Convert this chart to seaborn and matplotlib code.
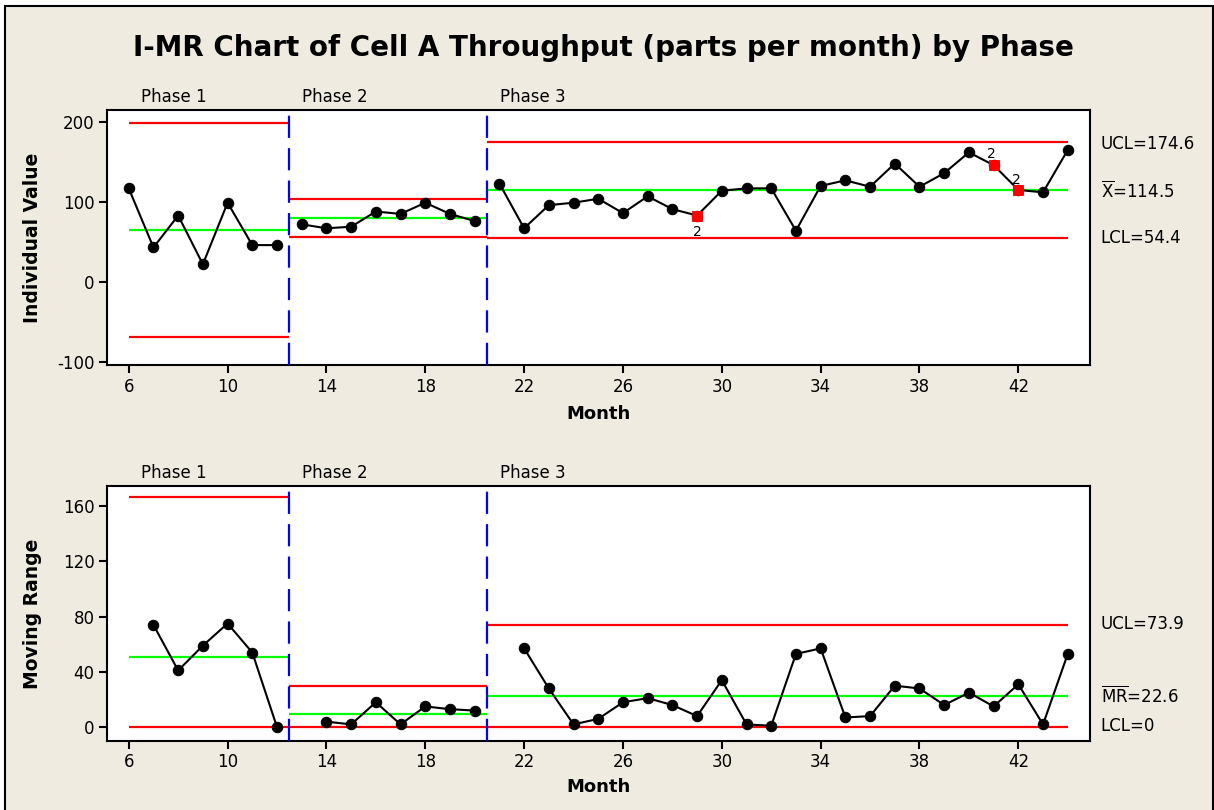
import numpy as np
import pandas as pd
import seaborn as sns
import matplotlib.pyplot as plt
import matplotlib.transforms as mtransforms
from matplotlib.patches import Rectangle

# ---- data ----
months = list(range(6, 45))
phase = [1] * 7 + [2] * 8 + [3] * 24
individual = [117, 43, 83, 22, 99, 46, 46,
              72, 67, 69, 88, 85, 99, 85, 76,
              123, 67, 96, 99, 104, 86, 107, 91, 83, 114, 117, 117,
              64, 120, 127, 119, 148, 119, 136, 162, 146, 115, 112, 165]
moving_range = [np.nan, 74, 41, 59, 75, 54, 0,
                np.nan, 4, 2, 18, 2, 15, 13, 12,
                np.nan, 57, 28, 2, 6, 18, 21, 16, 8, 34, 2, 1,
                53, 57, 7, 8, 30, 28, 16, 25, 15, 31, 2, 53]

phase_names = ['Phase 1', 'Phase 2', 'Phase 3']
phase_start = [6, 12.5, 20.5]
phase_end = [12.5, 20.5, 44]

i_center = [64.3, 80.2, 114.5]
i_ucl = [198.3, 104.2, 174.6]
i_lcl = [-69.1, 56.4, 54.4]
mr_center = [50.7, 9.8, 22.6]
mr_ucl = [166.6, 30.1, 73.9]
mr_lcl = [0, 0, 0]

flag_months = [29, 41, 42]
flag_offsets = [(0, -12), (-1.5, 8), (-1.5, 7)]

bg = '#EFEBE1'
df = pd.DataFrame({'month': months, 'phase': phase,
                   'individual': individual, 'mr': moving_range})

sns.set_theme(style='ticks')
plt.rcParams['font.family'] = ['DejaVu Sans']
plt.rcParams['text.color'] = 'black'
plt.rcParams['axes.labelcolor'] = 'black'
plt.rcParams['axes.unicode_minus'] = False

fig = plt.figure(figsize=(12.14, 8.10), dpi=100, facecolor='white')
fig.add_artist(Rectangle((5 / 1214, -0.01), 1208 / 1214, 1 - 6 / 810 + 0.01,
                         transform=fig.transFigure, facecolor=bg,
                         edgecolor='black', linewidth=1.5, zorder=-10))

ax1 = fig.add_axes([107 / 1214, 1 - 365 / 810, 983 / 1214, 255 / 810])
ax2 = fig.add_axes([107 / 1214, 1 - 740.7 / 810, 983 / 1214, 254.7 / 810])


def draw_panel(ax, col, center, ucl, lcl, ylim, yticks, ylabel, right_labels, xlab_y):
    ax.set_facecolor('white')
    for i in range(3):
        ax.hlines([ucl[i], lcl[i]], phase_start[i], phase_end[i], color='#FF0000', lw=1.6, zorder=2)
        ax.hlines(center[i], phase_start[i], phase_end[i], color='#00FF00', lw=1.6, zorder=2)
    for b in phase_start[1:]:
        ax.axvline(b, color='#0000FF', lw=1.6, dashes=(10, 4.6), zorder=3)
    d = df.dropna(subset=[col])
    sns.lineplot(data=d, x='month', y=col, units='phase', estimator=None,
                 color='black', lw=1.5, marker='o', markersize=7.5,
                 markeredgecolor='black', markerfacecolor='black', ax=ax, zorder=4)
    ax.set_xlim(5.12, 44.9)
    ax.set_ylim(*ylim)
    ax.set_xticks(range(6, 43, 4))
    ax.set_yticks(yticks)
    ax.tick_params(direction='out', length=6, width=1.5, labelsize=12, colors='black', pad=3)
    for s in ax.spines.values():
        s.set_color('black')
        s.set_linewidth(1.5)
    ax.set_xlabel('Month', fontsize=13, weight='bold', color='black')
    ax.xaxis.set_label_coords(0.5, xlab_y)
    ax.set_ylabel(ylabel, fontsize=13.5, weight='bold', color='black')
    ax.yaxis.set_label_coords(-0.066, 0.5)
    trans = mtransforms.blended_transform_factory(ax.transData, ax.transAxes)
    for name, x0 in zip(phase_names, phase_start):
        ax.annotate(name, (x0, 1.0), xycoords=trans, xytext=(9, 3),
                    textcoords='offset points', ha='left', va='bottom', fontsize=12, color='black')
    rtrans = mtransforms.blended_transform_factory(ax.transAxes, ax.transData)
    for txt, yv in right_labels:
        ax.text(1.011, yv, txt, transform=rtrans, ha='left', va='center', fontsize=12, color='black')


draw_panel(ax1, 'individual', i_center, i_ucl, i_lcl, (-104, 215), [-100, 0, 100, 200],
           'Individual Value',
           [('UCL=174.6', 172), (r'$\overline{\mathrm{X}}$=114.5', 112.5), ('LCL=54.4', 54.4)],
           -0.157)
draw_panel(ax2, 'mr', mr_center, mr_ucl, mr_lcl, (-9.8, 174.5), [0, 40, 80, 120, 160],
           'Moving Range',
           [('UCL=73.9', 74.5), (r'$\overline{\mathrm{MR}}$=22.6', 22), ('LCL=0', 1)],
           -0.146)

# test-2 failures flagged in red
flags = df[df['month'].isin(flag_months)]
sns.scatterplot(data=flags, x='month', y='individual', marker='s', s=60, color='#FF0000',
                edgecolor='#FF0000', ax=ax1, zorder=5)
for m, off in zip(flag_months, flag_offsets):
    yv = df.loc[df['month'] == m, 'individual'].iloc[0]
    ax1.annotate('2', (m, yv), xytext=off, textcoords='offset points',
                 ha='center', va='center', fontsize=10, color='black')
ax1.set_xlim(5.12, 44.9)

fig.text(0.497, 1 - 48 / 810, 'I-MR Chart of Cell A Throughput (parts per month) by Phase',
         ha='center', va='center', fontsize=20, weight='bold', color='black')

fig.savefig('out.png', dpi=100, facecolor=fig.get_facecolor())
